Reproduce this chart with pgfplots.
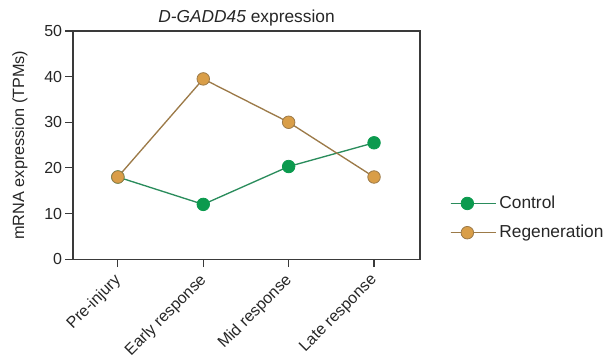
\documentclass[border=0pt]{standalone}
\usepackage{pgfplots}
\pgfplotsset{compat=1.18}
\usepackage{fontspec}
\setmainfont{Liberation Sans}
\definecolor{ctrlfill}{HTML}{0B9A4E}
\definecolor{ctrlline}{HTML}{2A8C5C}
\definecolor{regfill}{HTML}{D99E48}
\definecolor{regline}{HTML}{9C7A48}
\definecolor{axgray}{HTML}{3A3A3A}
\begin{document}
\begin{tikzpicture}
\begin{axis}[
  name=ax,
  scale only axis,
  width=260pt, height=171pt,
  xmin=-0.525, xmax=3.537,
  ymin=0, ymax=50,
  ytick={0,10,20,30,40,50},
  xtick={0,1,2,3},
  xticklabels={Pre-injury,Early response,Mid response,Late response},
  x tick label style={rotate=45, anchor=north east, inner sep=1pt, xshift=-4.3pt, yshift=0.7pt, font=\fontsize{12}{14}\selectfont},
  y tick label style={font=\fontsize{12}{14}\selectfont, inner sep=2pt},
  tick align=outside,
  tick pos=left,
  major tick length=6pt,
  axis line style={axgray, line width=0.9pt},
  every tick/.style={axgray, line width=0.9pt},
  /pgf/number format/assume math mode=true,
  tick label style={text=black!85},
  ylabel={mRNA expression (TPMs)},
  ylabel style={font=\fontsize{12.2}{14}\selectfont, text=black!85, yshift=7pt},
  title={\textit{D-GADD45} expression},
  title style={font=\fontsize{13}{15}\selectfont, text=black!85, yshift=-6pt},
  legend style={draw=none, fill=none, at={(1.086,0.18)}, anchor=west, inner sep=0pt,
    font=\fontsize{13}{15}\selectfont, row sep=7pt, text=black!85},
  legend cell align=left,
  legend image code/.code={
    \path (0pt,0pt) -- (34pt,0pt);
    \draw[#1, mark=none] (0pt,0pt) -- (25pt,0pt);
    \draw[#1, only marks] plot coordinates {(12.5pt,0pt)};
  },
  clip=false,
]
\addplot[ctrlline, line width=1pt, mark=*, mark size=4.7pt,
  mark options={fill=ctrlfill, draw=ctrlfill, line width=0.6pt}]
  coordinates {(0,18) (1,12) (2,20.3) (3,25.5)};
\addlegendentry{Control}
\addplot[regline, line width=1pt, mark=*, mark size=4.7pt,
  mark options={fill=regfill, draw=regline, line width=0.6pt}]
  coordinates {(0,18) (1,39.5) (2,30) (3,18)};
\addlegendentry{Regeneration}
\end{axis}
\pgfresetboundingbox
\path[use as bounding box] ([xshift=-54.75pt,yshift=-74.25pt]ax.south west) rectangle ([xshift=138.75pt,yshift=23.25pt]ax.north east);
\end{tikzpicture}
\end{document}
